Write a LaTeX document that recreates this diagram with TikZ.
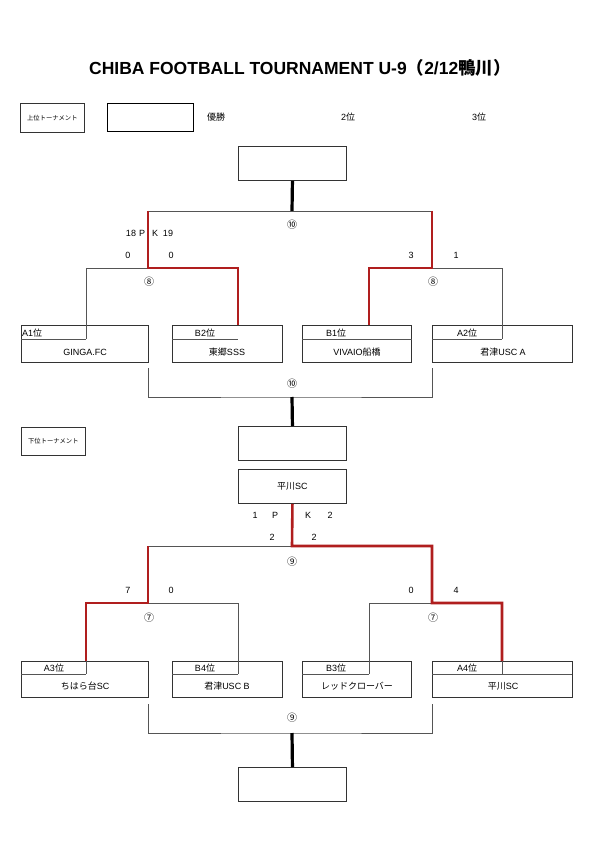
\documentclass[tikz,border=0pt]{standalone}
\usepackage{fontspec}
\setmainfont{Liberation Sans}
\newfontfamily\jp{Noto Sans CJK JP}
\begin{document}
\begin{tikzpicture}[x=1pt,y=-1pt,
  box/.style={draw=boxgray, line width=0.9pt, inner sep=0, anchor=north west, minimum width=108pt, minimum height=34pt},
  tbox/.style={draw=boxgray, line width=0.9pt, inner sep=0, anchor=north west, minimum height=37pt},
  lbl/.style={font=\fontsize{9}{10}\selectfont, inner sep=0},
  circ/.style={font=\fontsize{10}{12}\selectfont\jp, inner sep=0},
  small/.style={font=\fontsize{6.3}{7}\selectfont\jp, inner sep=0},
  br/.style={draw=linegray, line width=0.8pt},
  win/.style={draw=redline, line width=2.6pt},
  heavy/.style={draw=black, line width=3.2pt}]
\definecolor{boxgray}{HTML}{333333}
\definecolor{linegray}{HTML}{555555}
\definecolor{redline}{HTML}{B01E1E}
\useasboundingbox[fill=white] (0,0) rectangle (595,842);

% title
\node[inner sep=0, font=\fontsize{17.5}{20}\selectfont\bfseries] (title) at (300,68)
  {CHIBA FOOTBALL TOURNAMENT U-9{\jp\bfseries （}2/12{\jp\bfseries 鴨川）}};

% header
\node[box, minimum width=64pt, minimum height=29pt, line width=0.7pt] (upper) at (20,103) {};
\node[small] (uppert) at (upper.center) {上位トーナメント};
\node[box, minimum width=86pt, minimum height=28pt, line width=1.4pt, draw=black] (champ) at (107,103) {};
\node[lbl,font=\fontsize{9}{10}\selectfont\jp] (yusho) at (216,117) {優勝};
\node[lbl] (second) at (348,117) {2{\jp 位}};
\node[lbl] (third) at (479,117) {3{\jp 位}};

% ---------- upper tournament ----------
\node[box] (F1) at (238,146) {};
\coordinate (J10) at (292,211);
\coordinate (L8) at (148,211);
\coordinate (R8) at (432,211);
\coordinate (L8j) at (148,268);
\coordinate (R8j) at (432,268);
\draw[heavy] (F1.south) -- (J10);
\draw[br] (L8) -- (R8);
\node[circ] (m10a) at (292,225) {⑩};

% team boxes upper
\node[tbox, minimum width=127pt] (A1) at (21,325) {};
\node[tbox, minimum width=110pt] (B2) at (172,325) {};
\node[tbox, minimum width=109pt] (B1) at (302,325) {};
\node[tbox, minimum width=140pt] (A2) at (432,325) {};

\coordinate (A1c) at (86,339);
\coordinate (B2c) at (238,325);
\coordinate (B1c) at (369,325);
\coordinate (A2c) at (502,339);

\draw[br] (A1.north west |- A1c) -- (A1c);
\draw[br] (B2.north west |- 0,339) -- (238,339);
\draw[br] (B1.north west |- 0,339) -- (B1.north east |- 0,339);
\draw[br] (A2.north west |- 0,339) -- (A2c);

\draw[br] (L8j) -| (A1c);
\draw[br] (R8j) -| (A2c);
\draw[win] (L8) -- (L8j) -| (B2c);
\draw[win] (R8) -- (R8j) -| (B1c);

\node[lbl, anchor=west] (A1l) at (22,333) {A1{\jp 位}};
\node[lbl] (B2l) at (205,333) {B2{\jp 位}};
\node[lbl] (B1l) at (336,333) {B1{\jp 位}};
\node[lbl] (A2l) at (467,333) {A2{\jp 位}};
\node[lbl] (A1n) at (85,352) {GINGA.FC};
\node[lbl] (B2n) at (227,352) {{\jp 東郷}SSS};
\node[lbl] (B1n) at (357,352) {VIVAIO{\jp 船橋}};
\node[lbl] (A2n) at (503,352) {{\jp 君津}USC A};

\node[lbl] (pk1) at (131,233) {18};
\node[lbl] (pk2) at (142,233) {P};
\node[lbl] (pk3) at (155,233) {K};
\node[lbl] (pk4) at (168,233) {19};
\node[lbl] (s1) at (128,255) {0};
\node[lbl] (s2) at (171,255) {0};
\node[lbl] (s3) at (411,255) {3};
\node[lbl] (s4) at (456,255) {1};
\node[circ] (m8a) at (149,282) {⑧};
\node[circ] (m8b) at (433,282) {⑧};

% third place match (upper)
\coordinate (T1) at (148,368);
\coordinate (T2) at (432,368);
\coordinate (T3) at (292,397);
\draw[br] (T1) |- (T3) -| (T2);
\node[circ] (m10b) at (292,384) {⑩};
\node[box] (R3) at (238,426) {};
\draw[heavy] (T3) -- (R3.north);

% ---------- lower tournament ----------
\node[box, minimum width=64pt, minimum height=28pt, line width=0.7pt] (lower) at (21,427) {};
\node[small] (lowert) at (lower.center) {下位トーナメント};

\node[box] (F2) at (238,469) {};
\node[lbl] (F2n) at (F2.center) {{\jp 平川}SC};
\coordinate (J9) at (292,546);
\coordinate (L7) at (148,546);
\coordinate (R7) at (432,546);
\coordinate (L7j) at (148,603);
\coordinate (R7j) at (432,603);
\draw[br] (L7) -- (J9);

\node[tbox, minimum width=127pt, minimum height=36pt] (A3) at (21,661) {};
\node[tbox, minimum width=110pt, minimum height=36pt] (B4) at (172,661) {};
\node[tbox, minimum width=109pt, minimum height=36pt] (B3) at (302,661) {};
\node[tbox, minimum width=140pt, minimum height=36pt] (A4) at (432,661) {};

\coordinate (A3c) at (86,661);
\coordinate (B4c) at (238,674);
\coordinate (B3c) at (369,674);
\coordinate (A4c) at (502,661);

\draw[br] (21,674) -- (86,674);
\draw[br] (172,674) -- (B4c);
\draw[br] (302,674) -- (B3c);
\draw[br] (432,674) -- (572,674);
\draw[br] (86,661) -- (86,674);
\draw[br] (502,661) -- (502,674);

\draw[br] (L7j) -| (B4c);
\draw[br] (R7j) -| (B3c);
\draw[win] (L7) -- (L7j) -| (A3c);
\draw[win] (F2.south) -- (J9) -- (R7) -- (R7j) -| (A4c);

\node[lbl] (A3l) at (54,668) {A3{\jp 位}};
\node[lbl] (B4l) at (205,668) {B4{\jp 位}};
\node[lbl] (B3l) at (336,668) {B3{\jp 位}};
\node[lbl] (A4l) at (467,668) {A4{\jp 位}};
\node[lbl] (A3n) at (85,686) {{\jp ちはら台}SC};
\node[lbl] (B4n) at (227,686) {{\jp 君津}USC B};
\node[lbl] (B3n) at (357,686) {\jp レッドクローバー};
\node[lbl] (A4n) at (503,686) {{\jp 平川}SC};

\node[lbl] (q1) at (255,515) {1};
\node[lbl] (q2) at (275,515) {P};
\node[lbl] (q3) at (308,515) {K};
\node[lbl] (q4) at (330,515) {2};
\node[lbl] (q5) at (272,537) {2};
\node[lbl] (q6) at (314,537) {2};
\node[lbl] (t1) at (128,590) {7};
\node[lbl] (t2) at (171,590) {0};
\node[lbl] (t3) at (411,590) {0};
\node[lbl] (t4) at (456,590) {4};
\node[circ] (m9a) at (292,562) {⑨};
\node[circ] (m7a) at (149,618) {⑦};
\node[circ] (m7b) at (433,618) {⑦};

% lower consolation
\coordinate (U1) at (148,704);
\coordinate (U2) at (432,704);
\coordinate (U3) at (292,733);
\draw[br] (U1) |- (U3) -| (U2);
\node[circ] (m9b) at (292,718) {⑨};
\node[box] (R4) at (238,767) {};
\draw[heavy] (U3) -- (R4.north);
\end{tikzpicture}
\end{document}
